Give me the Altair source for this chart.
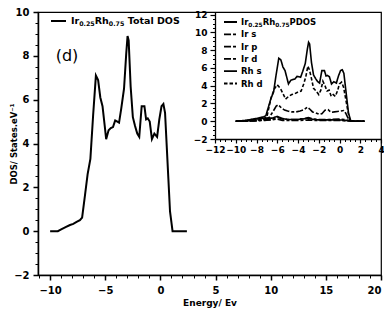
import altair as alt
import pandas as pd

# ---------------- data ----------------
E_total = [-10.0, -9.3, -9.0, -8.6, -8.2, -7.9, -7.6, -7.3, -7.1, -6.85, -6.6, -6.35, -6.1, -5.85,
           -5.65, -5.45, -5.25, -5.05, -4.92, -4.7, -4.5, -4.3, -4.1, -3.9, -3.75, -3.55, -3.3, -3.1,
           -2.98, -2.88, -2.7, -2.5, -2.3, -2.1, -1.92, -1.7, -1.45, -1.3, -1.15, -0.97, -0.77, -0.55,
           -0.3, -0.1, 0.1, 0.27, 0.42, 0.58, 0.72, 0.87, 1.1, 1.5, 2.0, 2.4]
D_total = [0.0, 0.0, 0.08, 0.18, 0.28, 0.33, 0.42, 0.5, 0.62, 1.6, 2.6, 3.3, 5.3, 7.1,
           6.9, 6.1, 5.7, 4.8, 4.2, 4.6, 4.7, 4.75, 5.05, 5.0, 4.95, 5.6, 6.5, 8.1,
           8.9, 8.7, 6.6, 5.2, 4.8, 4.45, 4.3, 5.7, 5.7, 5.1, 5.15, 5.0, 4.2, 4.45,
           4.3, 5.1, 5.7, 5.8, 5.4, 3.8, 2.4, 0.9, 0.0, 0.0, 0.0, 0.0]

E_rhd = [-10, -9, -8, -7.3, -7.0, -6.6, -6.3, -6.0, -5.7, -5.4, -5.2, -4.9, -4.6, -4.3, -4.0, -3.7,
         -3.45, -3.25, -3.05, -2.9, -2.7, -2.5, -2.25, -2.0, -1.8, -1.6, -1.4, -1.2, -1.0, -0.8,
         -0.6, -0.4, -0.2, 0.0, 0.2, 0.4, 0.6, 0.8, 1.0, 1.4, 2.0, 2.4]
D_rhd = [0, 0.02, 0.1, 0.25, 0.5, 2.6, 3.6, 4.1, 3.7, 3.0, 2.5, 2.8, 3.0, 3.1, 3.3, 3.4,
         4.2, 5.0, 6.2, 5.8, 4.8, 3.7, 3.4, 3.0, 3.5, 4.5, 4.0, 3.4, 3.5, 2.8,
         3.0, 2.8, 3.4, 4.2, 4.4, 3.8, 2.5, 1.2, 0.1, 0, 0, 0]

E_ird = [-10, -9, -8, -7.3, -6.8, -6.4, -6.1, -5.9, -5.6, -5.3, -5.0, -4.6, -4.2, -3.8, -3.4, -3.1,
         -2.9, -2.6, -2.3, -2.0, -1.7, -1.4, -1.1, -0.8, -0.5, -0.2, 0.1, 0.4, 0.6, 0.8, 1.0, 1.4,
         2.0, 2.4]
D_ird = [0, 0.01, 0.05, 0.15, 0.4, 1.1, 1.7, 1.85, 1.5, 1.25, 1.15, 1.05, 1.05, 1.15, 1.3, 1.6,
         1.4, 1.05, 0.95, 0.8, 0.85, 1.25, 1.3, 1.0, 1.05, 1.1, 1.15, 1.2, 0.9, 0.4, 0.05, 0,
         0, 0]

E_small = [-10, -9, -8, -7.2, -6.5, -6.0, -5.5, -5.0, -4.0, -3.2, -3.0, -2.5, -2.0, -1.0, 0.0, 0.5,
           1.0, 1.5, 2.4]
D_rhs = [0, 0.1, 0.25, 0.35, 0.35, 0.55, 0.3, 0.2, 0.2, 0.3, 0.35, 0.2, 0.15, 0.15, 0.15, 0.1,
         0.05, 0, 0]
D_irs = [0, 0.05, 0.1, 0.15, 0.15, 0.25, 0.1, 0.08, 0.08, 0.12, 0.15, 0.1, 0.08, 0.08, 0.08, 0.05,
         0.02, 0, 0]
D_irp = [0, 0.02, 0.05, 0.1, 0.2, 0.45, 0.25, 0.2, 0.2, 0.35, 0.4, 0.25, 0.2, 0.2, 0.25, 0.2,
         0.05, 0, 0]

series_names = ["PDOS", "Ir s", "Ir p", "Ir d", "Rh s", "Rh d"]

main_x_major = [-10, -5, 0, 5, 10, 15, 20]
main_y_major = [-2, 0, 2, 4, 6, 8, 10]
ins_x_major = [-12, -10, -8, -6, -4, -2, 0, 2, 4]
ins_y_major = [-2, 0, 2, 4, 6, 8, 10, 12]

# ---------------- layout / style ----------------
FONT = "DejaVu Sans"
W, H = 343, 263
MAIN_XD = [-11.1, 20]
MAIN_YD = [-2, 10]
INS_XD = [-12, 4]
INS_YD = [-2, 12.3]
INS_XR = [177, W]
INS_YR = [127, 0]
INS_XOFF = INS_YR[0] - H
INS_YOFF = -INS_XR[0]

main_x_minor = [v for v in range(-11, 21) if v % 5 != 0]
main_y_minor = [v / 2 for v in range(-4, 21) if v % 4 != 0]
ins_x_minor = [v / 2 for v in range(-24, 9) if v % 4 != 0]
ins_y_minor = [v / 2 for v in range(-4, 25) if v % 4 != 0]

DASH = {"PDOS": [1, 0], "Ir s": [7, 2, 3, 2], "Ir p": [7, 2, 3, 2], "Ir d": [7, 2, 3, 2],
        "Rh s": [1, 0], "Rh d": [3.5, 2]}

dummy = pd.DataFrame({"k": [0]})

tot = pd.DataFrame({"E": E_total, "D": D_total})
frames = [pd.DataFrame({"E": E_total, "D": D_total, "s": "PDOS"}),
          pd.DataFrame({"E": E_small, "D": D_irs, "s": "Ir s"}),
          pd.DataFrame({"E": E_small, "D": D_irp, "s": "Ir p"}),
          pd.DataFrame({"E": E_ird, "D": D_ird, "s": "Ir d"}),
          pd.DataFrame({"E": E_small, "D": D_rhs, "s": "Rh s"}),
          pd.DataFrame({"E": E_rhd, "D": D_rhd, "s": "Rh d"})]
ins_df = pd.concat(frames, ignore_index=True)


def mscale(dom, rng=None):
    kw = dict(domain=dom, nice=False, zero=False)
    if rng is not None:
        kw["range"] = rng
    return alt.Scale(**kw)


layers = []

# main total DOS
layers.append(alt.Chart(tot).mark_line(color="black", strokeWidth=2).encode(
    x=alt.X("E:Q", scale=mscale(MAIN_XD),
            axis=alt.Axis(values=main_x_major, orient="bottom", title="Energy/ Ev", format="d",
                          tickSize=5, tickWidth=1.5, domainWidth=1.5, labelFontSize=10,
                          labelPadding=5, titleFontSize=9, titlePadding=3, labelFlush=True,
                          grid=False)),
    y=alt.Y("D:Q", scale=mscale(MAIN_YD),
            axis=alt.Axis(values=main_y_major, orient="left", title="DOS/ States.eV⁻¹", format="d",
                          tickSize=5, tickWidth=1.5, domainWidth=1.5, labelFontSize=10,
                          labelPadding=4, titleFontSize=8.5, titleX=-25, titleY=H / 2,
                          titleBaseline="middle", labelFlush=False, grid=False)),
))

# main minor ticks
layers.append(alt.Chart(tot).mark_point(opacity=0).encode(
    x=alt.X("E:Q", scale=mscale(MAIN_XD),
            axis=alt.Axis(values=main_x_minor, orient="bottom", labels=False, domain=False,
                          tickSize=3, tickWidth=1, title=None, grid=False)),
    y=alt.Y("D:Q", scale=mscale(MAIN_YD),
            axis=alt.Axis(values=main_y_minor, orient="left", labels=False, domain=False,
                          tickSize=3, tickWidth=1, title=None, grid=False)),
))

# inset PDOS lines
layers.append(alt.Chart(ins_df).mark_line(color="black", strokeWidth=1.6).encode(
    x=alt.X("E:Q", scale=mscale(INS_XD, INS_XR),
            axis=alt.Axis(values=ins_x_major, orient="bottom", offset=INS_XOFF, title=None,
                          format="d", tickSize=4, tickWidth=1.2, domainWidth=1.3, labelFontSize=9,
                          labelPadding=2, labelFlush=False, labelOverlap=False, grid=False)),
    y=alt.Y("D:Q", scale=mscale(INS_YD, INS_YR),
            axis=alt.Axis(values=ins_y_major, orient="left", offset=INS_YOFF, title=None,
                          format="d", tickSize=5, tickWidth=1.2, domainWidth=1.3, labelFontSize=9,
                          labelPadding=3, labelFlush=False, labelOverlap=False, grid=False)),
    strokeDash=alt.StrokeDash("s:N", scale=alt.Scale(domain=series_names,
                                                     range=[DASH[s] for s in series_names]),
                              legend=None),
))

# inset minor ticks
layers.append(alt.Chart(ins_df).mark_point(opacity=0).encode(
    x=alt.X("E:Q", scale=mscale(INS_XD, INS_XR),
            axis=alt.Axis(values=ins_x_minor, orient="bottom", offset=INS_XOFF, labels=False,
                          domain=False, tickSize=2.5, tickWidth=1, title=None, grid=False)),
    y=alt.Y("D:Q", scale=mscale(INS_YD, INS_YR),
            axis=alt.Axis(values=ins_y_minor, orient="left", offset=INS_YOFF, labels=False,
                          domain=False, tickSize=2.5, tickWidth=1, title=None, grid=False)),
))

# ---------------- legends and annotation ----------------
W_EM = {"I": .372, "r": .493, "R": .770, "h": .712, ".": .380, " ": .348, "T": .682, "o": .687,
        "t": .478, "a": .675, "l": .343, "D": .830, "O": .850, "S": .720, "P": .733, "s": .595,
        "p": .716, "d": .716}
for c in "0123456789":
    W_EM[c] = .696


def twidth(s, size):
    return sum(W_EM.get(c, 0.6) for c in s) * size


def rich(pieces, x0, yc, size):
    base = yc + 0.36 * size
    x = x0
    for txt, fs, dy in pieces:
        lead = len(txt) - len(txt.lstrip(" "))
        x += twidth(" " * lead, fs)
        body = txt.lstrip(" ")
        layers.append(alt.Chart(dummy).mark_text(
            text=body, font=FONT, fontWeight="bold", fontSize=fs, align="left",
            baseline="alphabetic", color="black").encode(x=alt.value(x), y=alt.value(base + dy)))
        x += twidth(body, fs)


def sample(x0, x1, yc, dash, sw):
    layers.append(alt.Chart(dummy).mark_rule(color="black", strokeWidth=sw, strokeDash=dash).encode(
        x=alt.value(x0), x2=alt.value(x1), y=alt.value(yc)))


# main legend
sample(13, 28, 9, [1, 0], 2)
rich([("Ir", 9.5, 0), ("0.25", 6.3, 2), ("Rh", 9.5, 0), ("0.75", 6.3, 2), (" Total DOS", 9.5, 0)],
     33, 9, 9.5)

# (d)
layers.append(alt.Chart(dummy).mark_text(
    text="(d)", font=FONT, fontSize=16, align="center", baseline="middle", color="black").encode(
    x=alt.value(29), y=alt.value(44)))

# inset legend
rows = [10, 22.3, 34.6, 46.9, 59.2, 71.5]
for i, name in enumerate(series_names):
    sample(186, 199, rows[i], DASH[name], 1.8)
    if name == "PDOS":
        rich([("Ir", 8.5, 0), ("0.25", 5.8, 2), ("Rh", 8.5, 0), ("0.75", 5.8, 2), ("PDOS", 8.5, 0)],
             203, rows[i], 8.5)
    else:
        rich([(name, 8.5, 0)], 203, rows[i], 8.5)

chart = alt.layer(*layers).properties(
    width=W, height=H,
    padding={"left": 30, "top": 4, "right": 3, "bottom": 33},
    autosize=alt.AutoSizeParams(type="none"),
).resolve_scale(x="independent", y="independent").configure_view(
    stroke="black", strokeWidth=1.2
).configure_axis(
    labelFont=FONT, labelFontWeight="bold", labelColor="black",
    titleFont=FONT, titleFontWeight="bold", titleColor="black",
    domainColor="black", tickColor="black",
)

chart.save("out.html", embed_options={"renderer": "svg", "actions": False})
